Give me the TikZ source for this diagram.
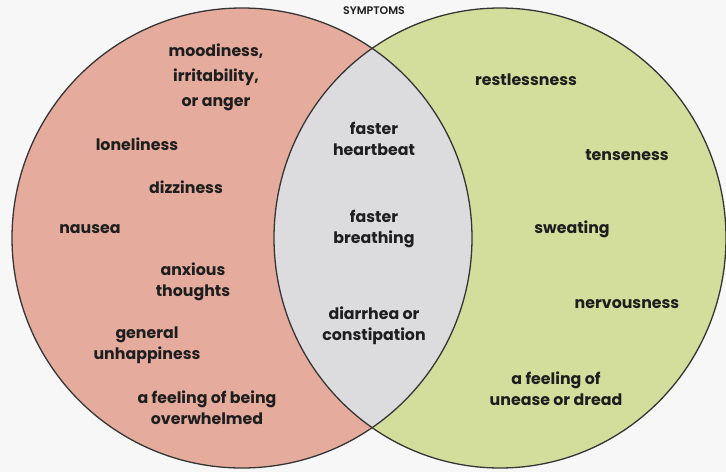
\documentclass[tikz,border=0pt]{standalone}
\usepackage{fontspec}
\setmainfont{Poppins}[UprightFont={* SemiBold},BoldFont={* Bold}]
\definecolor{bgpaper}{HTML}{F7F7F7}
\definecolor{leftfill}{HTML}{E5AC9E}
\definecolor{rightfill}{HTML}{D3DD9C}
\definecolor{midfill}{HTML}{DCDBDD}
\definecolor{ink}{HTML}{1E1E1E}
\begin{document}
\begin{tikzpicture}[x=1pt,y=-1pt,
  item/.style={text=ink,align=center,inner sep=0pt,font=\bfseries\fontsize{15.8}{21}\selectfont},
  ring/.style={draw=ink!90,line width=1.3pt}]
\useasboundingbox (0,0) rectangle (726,472);
\fill [bgpaper] (0,0) rectangle (726,472);

\fill [leftfill] (242,238) ellipse [x radius=230,y radius=230];
\fill [rightfill] (500,238) ellipse [x radius=226,y radius=230];
\begin{scope}
\clip (242,238) ellipse [x radius=230,y radius=230];
\fill [midfill] (500,238) ellipse [x radius=226,y radius=230];
\end{scope}
\draw [ring] (242,238) ellipse [x radius=230,y radius=230];
\draw [ring] (500,238) ellipse [x radius=226,y radius=230];

\node (title) at (374,11) [text=ink,inner sep=0pt,font=\fontsize{11}{12}\selectfont] {SYMPTOMS};

\node (mood) at (216,77) [item,font=\bfseries\fontsize{15.8}{25}\selectfont] {moodiness,\\irritability,\\or anger};
\node (lonely) at (137,144) [item] {loneliness};
\node (dizzy) at (186,187) [item] {dizziness};
\node (nausea) at (90,229) [item] {nausea};
\node (anxious) at (193,282) [item] {anxious\\thoughts};
\node (unhappy) at (147,345) [item] {general\\unhappiness};
\node (overwh) at (207,408) [item] {a feeling of being\\overwhelmed};

\node (heart) at (374,139) [item] {faster\\heartbeat};
\node (breath) at (374,229) [item] {faster\\breathing};
\node (diarr) at (374,326) [item] {diarrhea or\\constipation};

\node (restless) at (526,80) [item] {restlessness};
\node (tense) at (627,155) [item] {tenseness};
\node (sweat) at (572,229) [item] {sweating};
\node (nervous) at (627,304) [item] {nervousness};
\node (unease) at (556,389) [item] {a feeling of\\unease or dread};
\end{tikzpicture}
\end{document}
